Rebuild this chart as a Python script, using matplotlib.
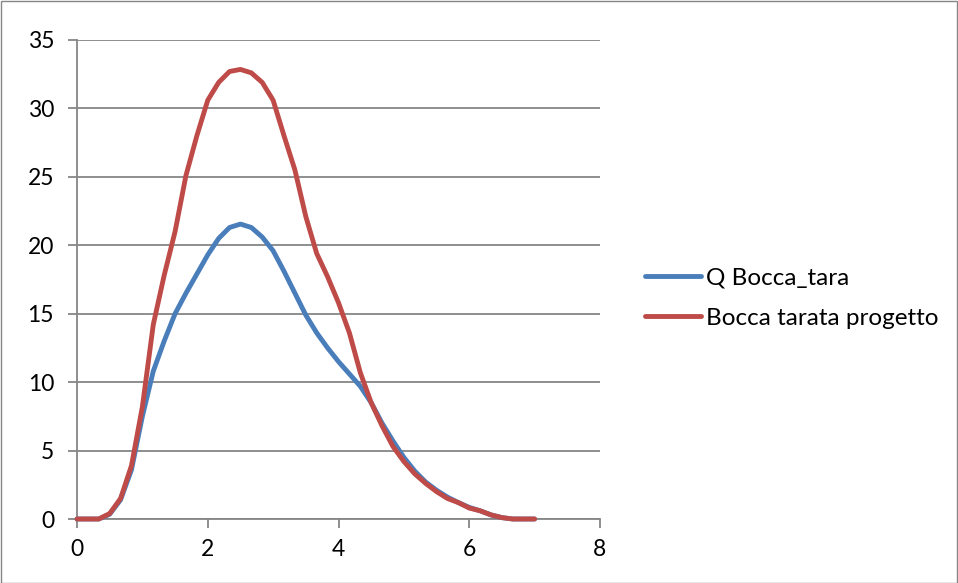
import numpy as np
import matplotlib
matplotlib.use("Agg")
import matplotlib.pyplot as plt
from matplotlib.patches import Rectangle

# time steps every 10 minutes (hours)
t = np.arange(43) / 6.0

q_bocca_tara = [0, 0, 0, 0.35, 1.4, 3.6, 7.5, 10.8, 13.0, 15.0,
                16.5, 17.9, 19.3, 20.5, 21.3, 21.55, 21.3, 20.6, 19.6, 18.1,
                16.5, 14.9, 13.6, 12.5, 11.5, 10.6, 9.7, 8.5, 7.0, 5.7,
                4.5, 3.5, 2.7, 2.1, 1.6, 1.2, 0.85, 0.6, 0.3, 0.1,
                0, 0, 0]
bocca_progetto = [0, 0, 0, 0.4, 1.5, 3.9, 8.2, 14.2, 17.8, 21.0,
                  25.1, 28.0, 30.6, 31.9, 32.7, 32.85, 32.6, 31.9, 30.6, 28.0,
                  25.5, 22.1, 19.4, 17.7, 15.8, 13.6, 10.7, 8.5, 6.8, 5.3,
                  4.2, 3.3, 2.6, 2.0, 1.5, 1.2, 0.8, 0.6, 0.3, 0.1,
                  0, 0, 0]

plt.rcParams['font.family'] = ['Lato', 'DejaVu Sans']

fig = plt.figure(figsize=(9.58, 5.83), dpi=100)
ax = fig.add_axes([77 / 958, 64 / 583, 523 / 958, 479 / 583])

grid_col = "#868686"
ax.plot(t, q_bocca_tara, color="#4A7EBB", lw=3.5, label="Q Bocca_tara",
        solid_capstyle="round", clip_on=False, zorder=3)
ax.plot(t, bocca_progetto, color="#BE4B48", lw=3.5, label="Bocca tarata progetto",
        solid_capstyle="round", clip_on=False, zorder=4)

ax.set_xlim(0, 8)
ax.set_ylim(0, 35)
ax.set_xticks(range(0, 9, 2))
ax.set_yticks(range(0, 36, 5))
ax.yaxis.grid(True, color=grid_col, lw=1.3)
ax.set_axisbelow(True)
for s in ["top", "right"]:
    ax.spines[s].set_visible(False)
for s in ["left", "bottom"]:
    ax.spines[s].set_color(grid_col)
    ax.spines[s].set_linewidth(1.3)
ax.tick_params(axis="both", colors=grid_col, width=1.3, length=6.5, labelsize=16.5,
               labelcolor="black")
ax.tick_params(axis="y", pad=10)
ax.tick_params(axis="x", pad=8)

ax.legend(loc="center left", bbox_to_anchor=((645 - 77) / 523, (519 - 298) / 479),
          frameon=False, fontsize=17.5, handlelength=2.3, handletextpad=0.2,
          labelspacing=0.8, borderaxespad=0, borderpad=0)

fig.patches.append(Rectangle((0.5 / 958, 0.5 / 583), 1 - 1.5 / 958, 1 - 1.5 / 583,
                             transform=fig.transFigure, fill=False,
                             edgecolor=grid_col, lw=1))

fig.savefig("out.png", dpi=100)
